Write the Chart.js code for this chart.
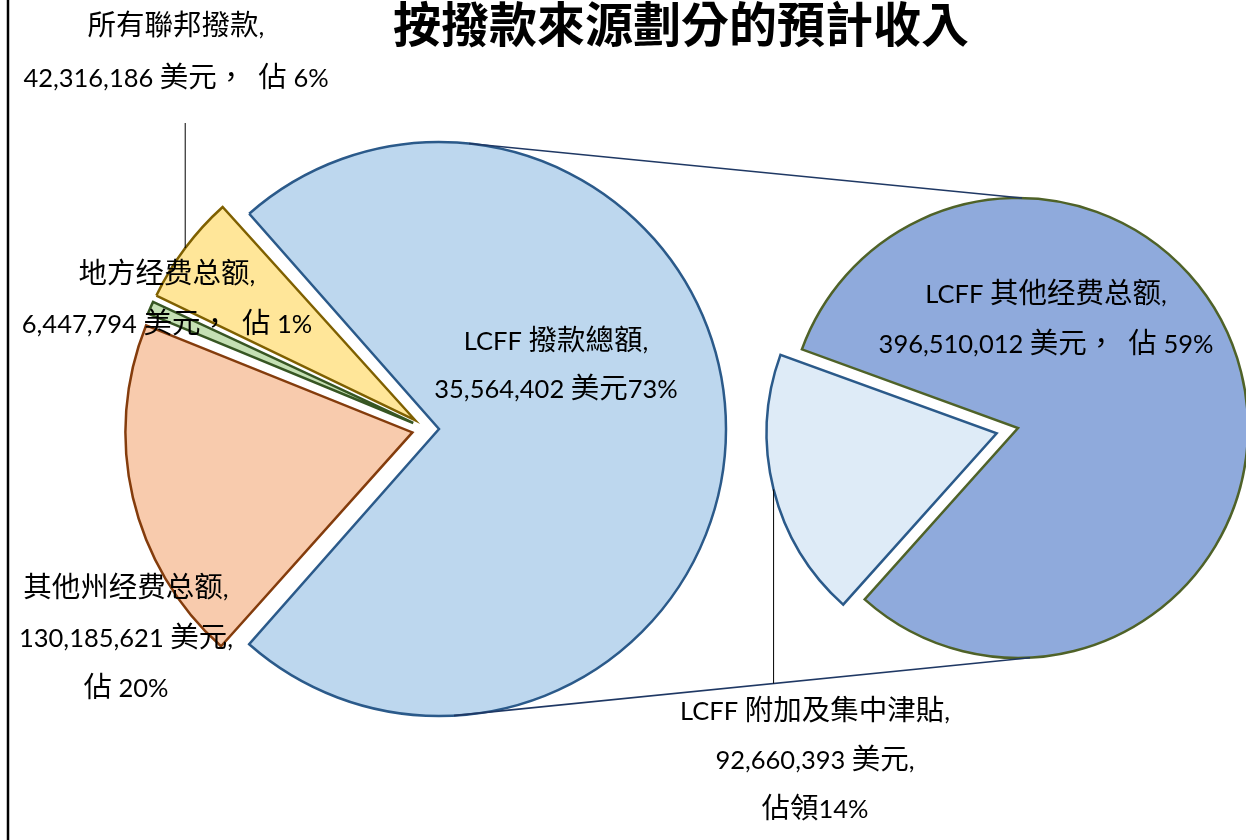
<!DOCTYPE html>
<html lang="zh-Hant">
<head>
<meta charset="utf-8">
<title>按撥款來源劃分的預計收入</title>
<script src="https://cdn.jsdelivr.net/npm/chart.js@4.4.0/dist/chart.umd.min.js"></script>
<style>
  html, body { margin: 0; padding: 0; background: #fff; }
  #wrap { position: relative; width: 1246px; height: 840px; overflow: hidden; background: #fff; }
  #wrap canvas { position: absolute; left: 0; top: 0; }
</style>
</head>
<body>
<div id="wrap">
  <canvas id="main-pie" width="1246" height="840"></canvas>
  <canvas id="detail-pie" width="1246" height="840"></canvas>
</div>
<script>
const chartTitle = '按撥款來源劃分的預計收入';

// main pie: LCFF total plus the other three sources
const mainCategories = ['LCFF 撥款總額', '其他州经费总额', '地方经费总额', '所有聯邦撥款'];
const mainValues = [489170405, 130185621, 6447794, 42316186];
const mainLabelLines = [
    ['LCFF 撥款總額,', '35,564,402 美元73%'],
    ['其他州经费总额,', '130,185,621 美元,', '佔 20%'],
    ['地方经费总额,', '6,447,794 美元，  佔 1%'],
    ['所有聯邦撥款,', '42,316,186 美元，  佔 6%']
];

// second pie: split of the LCFF slice
const detailCategories = ['LCFF 其他经费总额', 'LCFF 附加及集中津貼'];
const detailValues = [396510012, 92660393];
const detailLabelLines = [
    ['LCFF 其他经费总额,', '396,510,012 美元，  佔 59%'],
    ['LCFF 附加及集中津貼,', '92,660,393 美元,', '佔領14%']
];

const LATIN_FONT = '25.5px Lato';
const CJK_FONT = '28.5px "Noto Sans CJK TC"';
const charts = {};

function isCjk(ch) {
    return /[\u3000-\u9fff\uff00-\uffef]/.test(ch);
}

function drawMixedLine(ctx, text, cx, cy) {
    const runs = [];
    for (const ch of text) {
        const cjk = isCjk(ch);
        const last = runs[runs.length - 1];
        if (last && last.cjk === cjk) last.text += ch;
        else runs.push({ text: ch, cjk: cjk });
    }
    let total = 0;
    runs.forEach(r => {
        ctx.font = r.cjk ? CJK_FONT : LATIN_FONT;
        r.w = ctx.measureText(r.text).width;
        total += r.w;
    });
    let x = cx - total / 2;
    ctx.textAlign = 'left';
    ctx.textBaseline = 'alphabetic';
    runs.forEach(r => {
        ctx.font = r.cjk ? CJK_FONT : LATIN_FONT;
        ctx.fillText(r.text, x, cy + 10);
        x += r.w;
    });
}

// where a slice is really drawn once chart.js applied its offset
function arcGeometry(arc) {
    const mid = (arc.startAngle + arc.endAngle) / 2;
    const shift = (arc.options.offset || 0) / 4;
    const fix = 1 - Math.sin(Math.min(Math.PI, arc.circumference));
    return {
        cx: arc.x + Math.cos(mid) * shift,
        cy: arc.y + Math.sin(mid) * shift,
        r: arc.outerRadius + shift * fix,
        mid: mid
    };
}

function pointOn(g, deg) {
    const a = deg * Math.PI / 180;
    return { x: g.cx + Math.cos(a) * g.r, y: g.cy + Math.sin(a) * g.r };
}

// keep every exploded slice at the same radius
const equalRadius = {
    id: 'equalRadius',
    beforeDatasetDraw(chart, args, opts) {
        args.meta.data.forEach(arc => {
            const shift = (arc.options.offset || 0) / 4;
            const fix = 1 - Math.sin(Math.min(Math.PI, arc.circumference));
            arc.outerRadius = opts.radius - shift * fix;
        });
    }
};

const connectors = {
    id: 'connectors',
    afterDatasetsDraw(chart, args, opts) {
        const main = charts.main;
        if (!main) return;
        const ctx = chart.ctx;
        const mainArcs = main.getDatasetMeta(0).data;
        const detailArcs = chart.getDatasetMeta(0).data;
        const big = arcGeometry(mainArcs[0]);
        const dark = arcGeometry(detailArcs[0]);

        const topA = pointOn(big, opts.topFrom), topB = pointOn(dark, opts.topTo);
        const botA = pointOn(big, opts.bottomFrom), botB = pointOn(dark, opts.bottomTo);
        ctx.save();
        ctx.strokeStyle = '#1F3864';
        ctx.lineWidth = 1.6;
        ctx.beginPath();
        ctx.moveTo(topA.x, topA.y); ctx.lineTo(topB.x, topB.y);
        ctx.moveTo(botA.x, botA.y); ctx.lineTo(botB.x, botB.y);
        ctx.stroke();

        // leader lines from slice mid points to their labels
        ctx.strokeStyle = '#000';
        ctx.lineWidth = 1;
        const fed = arcGeometry(mainArcs[3]);
        const fedPt = pointOn(fed, fed.mid * 180 / Math.PI);
        ctx.beginPath();
        ctx.moveTo(fedPt.x, fedPt.y);
        ctx.lineTo(fedPt.x, opts.federalLeaderTop);
        ctx.stroke();

        const sup = arcGeometry(detailArcs[1]);
        const supPt = pointOn(sup, sup.mid * 180 / Math.PI);
        const t = (supPt.x - botA.x) / (botB.x - botA.x);
        const yOnLine = botA.y + t * (botB.y - botA.y);
        ctx.beginPath();
        ctx.moveTo(supPt.x, supPt.y);
        ctx.lineTo(supPt.x, yOnLine);
        ctx.stroke();
        ctx.restore();
    }
};

const textLayer = {
    id: 'textLayer',
    afterDraw(chart, args, opts) {
        const ctx = chart.ctx;
        ctx.save();
        // chart frame, only its left side is inside the picture
        ctx.strokeStyle = '#000';
        ctx.lineWidth = 2.5;
        ctx.beginPath();
        ctx.moveTo(8, 0);
        ctx.lineTo(8, 840);
        ctx.stroke();

        ctx.fillStyle = '#000';
        ctx.font = 'bold 48px "Noto Sans CJK TC"';
        ctx.textAlign = 'center';
        ctx.textBaseline = 'alphabetic';
        ctx.fillText(chartTitle, opts.titleX, opts.titleY);

        const blocks = mainLabelLines.map((lines, i) => ({ lines, pos: opts.mainPos[i] }))
            .concat(detailLabelLines.map((lines, i) => ({ lines, pos: opts.detailPos[i] })));
        blocks.forEach(b => {
            b.lines.forEach((line, j) => {
                drawMixedLine(ctx, line, b.pos.x, b.pos.y + j * b.pos.lh);
            });
        });
        ctx.restore();
    }
};

const mainShare = mainValues[0] / mainValues.reduce((a, b) => a + b, 0);

charts.main = new Chart(document.getElementById('main-pie'), {
    type: 'pie',
    data: {
        labels: mainCategories,
        datasets: [{
            data: mainValues,
            backgroundColor: ['#BDD7EE', '#F8CBAD', '#C5E0B4', '#FFE699'],
            borderColor: ['#2B5A8A', '#843C0C', '#375623', '#7F6000'],
            borderWidth: 2.5,
            borderJoinStyle: 'miter',
            offset: [48, 60, 60, 60],
            hoverOffset: 0
        }]
    },
    options: {
        responsive: false,
        animation: false,
        events: [],
        radius: 287,
        rotation: 90 - mainShare * 180,
        layout: { padding: { left: 0, right: 392, top: 18, bottom: 0 } },
        plugins: {
            legend: { display: false },
            tooltip: { enabled: false },
            equalRadius: { radius: 287 }
        }
    },
    plugins: [equalRadius]
});

charts.detail = new Chart(document.getElementById('detail-pie'), {
    type: 'pie',
    data: {
        labels: detailCategories,
        datasets: [{
            data: detailValues,
            backgroundColor: ['#8FAADC', '#DEEBF7'],
            borderColor: ['#4F6228', '#2B5A8A'],
            borderWidth: 2.5,
            borderJoinStyle: 'miter',
            offset: [0, 88],
            hoverOffset: 0
        }]
    },
    options: {
        responsive: false,
        animation: false,
        events: [],
        radius: 230,
        rotation: 290,
        layout: { padding: { left: 790, right: 0, top: 16, bottom: 0 } },
        plugins: {
            legend: { display: false },
            tooltip: { enabled: false },
            equalRadius: { radius: 230 },
            connectors: { topFrom: -84, topTo: -89, bottomFrom: 87, bottomTo: 87, federalLeaderTop: 123 },
            textLayer: {
                titleX: 681,
                titleY: 42,
                mainPos: [
                    { x: 556, y: 340, lh: 48 },
                    { x: 126, y: 587, lh: 50 },
                    { x: 167, y: 273, lh: 50 },
                    { x: 176, y: 25, lh: 52 }
                ],
                detailPos: [
                    { x: 1046, y: 293, lh: 50 },
                    { x: 815, y: 710, lh: 49 }
                ]
            }
        }
    },
    plugins: [equalRadius, connectors, textLayer]
});
</script>
</body>
</html>
